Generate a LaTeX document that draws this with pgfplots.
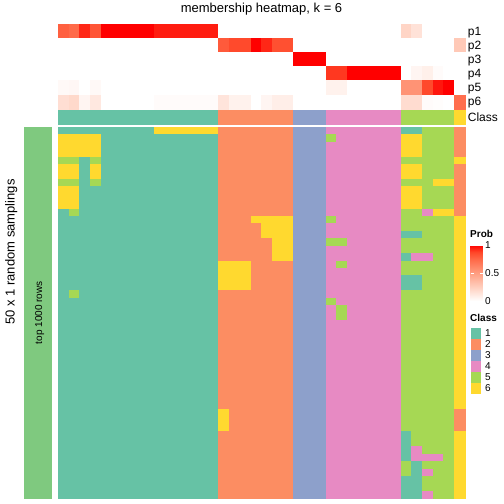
\documentclass[border=0pt]{standalone}
\usepackage{pgfplots}
\pgfplotsset{compat=1.18}
\usepackage{fontspec}
\setmainfont{Liberation Sans}
\definecolor{k1}{RGB}{102,194,165}
\definecolor{k2}{RGB}{252,141,98}
\definecolor{k3}{RGB}{141,160,203}
\definecolor{k4}{RGB}{231,138,195}
\definecolor{k5}{RGB}{166,216,84}
\definecolor{k6}{RGB}{255,217,47}
\definecolor{rowbar}{RGB}{127,201,127}
\newcommand{\fs}[1]{\fontsize{#1bp}{#1bp}\selectfont}
\pgfplotsset{
 colormap={classes}{rgb255=(102,194,165) rgb255=(252,141,98) rgb255=(141,160,203) rgb255=(231,138,195) rgb255=(166,216,84) rgb255=(255,217,47)},
 colormap={prob}{rgb255(0cm)=(255,255,255) rgb255(1cm)=(255,207,190) rgb255(2cm)=(255,158,129) rgb255(3cm)=(255,104,71) rgb255(3.5cm)=(255,70,40) rgb255(4cm)=(255,0,0)},
 hm/.style={scale only axis, anchor=north west, xmin=-0.5, xmax=37.5, y dir=reverse, hide axis, width=407bp},
 hmcell/.style 2 args={scatter, only marks, mark=square*, mark size=#1, point meta=explicit,
   scatter/use mapped color={draw=mapped color, fill=mapped color},
   mark options={xscale=#2, line width=0.35bp}},
}
\begin{document}
\begin{tikzpicture}
\path[use as bounding box] (0,0) rectangle (504bp,-504bp);

% ---------- probability annotation (p1..p6) ----------
\begin{axis}[hm, at={(58bp,-24bp)}, height=85bp, ymin=-0.5, ymax=5.5,
  colormap name=prob, point meta min=0, point meta max=1,
  colorbar,
  colorbar style={at={(parent axis.north east)}, anchor=north west, xshift=-3bp, yshift=-221bp,
    width=12bp, height=56bp, scale only axis,
    ytick={0,0.5,1}, ytick pos=both, yticklabel pos=right,
    axis line style={draw=none}, tick align=inside, major tick length=3bp,
    ytick style={white, line width=0.7bp},
    yticklabel style={font=\fs{10}, /pgf/number format/assume math mode=true, inner sep=2.5bp}}]
\addplot[hmcell={7.083bp}{0.7559}]
 table[row sep=\\, x expr={\coordindex-38*floor((\coordindex+0.5)/38)}, y expr={floor((\coordindex+0.5)/38)}, meta=p] {p\\
0.78\\0.74\\0.93\\0.82\\1\\1\\1\\1\\1\\0.95\\0.95\\0.95\\0.95\\0.95\\0.95\\ 0\\0\\0\\0\\0\\0\\0\\ 0\\0\\0\\ 0\\0\\0\\0\\0\\0\\0\\ 0.22\\0.15\\0\\0\\0\\ 0\\
0\\0\\0\\0\\0\\0\\0\\0\\0\\0\\0\\0\\0\\0\\0\\ 0.80\\0.86\\0.86\\1\\0.93\\0.84\\0.84\\ 0\\0\\0\\ 0\\0\\0\\0\\0\\0\\0\\ 0\\0\\0\\0\\0\\ 0.28\\
0\\0\\0\\0\\0\\0\\0\\0\\0\\0\\0\\0\\0\\0\\0\\ 0\\0\\0\\0\\0\\0\\0\\ 1\\1\\1\\ 0\\0\\0\\0\\0\\0\\0\\ 0\\0\\0\\0\\0\\ 0\\
0\\0\\0\\0\\0\\0\\0\\0\\0\\0\\0\\0\\0\\0\\0\\ 0\\0\\0\\0\\0\\0\\0\\ 0\\0\\0\\ 0.90\\0.90\\1\\1\\1\\1\\1\\ 0\\0.05\\0.08\\0.02\\0\\ 0\\
0.03\\0.04\\0\\0.03\\0\\0\\0\\0\\0\\0\\0\\0\\0\\0\\0\\ 0\\0\\0\\0\\0\\0\\0\\ 0\\0\\0\\ 0.07\\0.07\\0\\0\\0\\0\\0\\ 0.55\\0.55\\0.86\\0.96\\1\\ 0\\
0.17\\0.20\\0.05\\0.12\\0\\0\\0\\0\\0\\0.02\\0.02\\0.02\\0.02\\0.02\\0.02\\ 0.14\\0.07\\0.07\\0\\0.05\\0.09\\0.09\\ 0\\0\\0\\ 0\\0\\0\\0\\0\\0\\0\\ 0.18\\0.18\\0.02\\0.01\\0\\ 0.72\\
};
\end{axis}

% ---------- class annotation ----------
\begin{axis}[hm, at={(58bp,-110bp)}, height=14bp, ymin=-0.5, ymax=0.5,
  colormap name=classes, point meta min=0, point meta max=5]
\addplot[hmcell={7bp}{0.765}]
 table[row sep=\\, x expr=\coordindex, y expr=0, meta=c] {c\\
0\\0\\0\\0\\0\\0\\0\\0\\0\\0\\0\\0\\0\\0\\0\\ 1\\1\\1\\1\\1\\1\\1\\ 2\\2\\2\\ 3\\3\\3\\3\\3\\3\\3\\ 4\\4\\4\\4\\4\\ 5\\
};
\end{axis}

% ---------- main membership heatmap (50 samplings x 38 samples) ----------
\begin{axis}[hm, at={(58bp,-127bp)}, height=371.5bp, ymin=-0.5, ymax=49.5,
  colormap name=classes, point meta min=0, point meta max=5]
\addplot[hmcell={3.715bp}{1.4418}]
 table[row sep=\\, x expr={\coordindex-38*floor((\coordindex+0.5)/38)}, y expr={floor((\coordindex+0.5)/38)}, meta=c] {c\\
0\\0\\0\\0\\0\\0\\0\\0\\0\\5\\5\\5\\5\\5\\5\\ 1\\1\\1\\1\\1\\1\\1\\ 2\\2\\2\\ 3\\3\\3\\3\\3\\3\\3\\ 0\\0\\4\\4\\4\\ 1\\
5\\5\\5\\5\\0\\0\\0\\0\\0\\0\\0\\0\\0\\0\\0\\ 1\\1\\1\\1\\1\\1\\1\\ 2\\2\\2\\ 4\\3\\3\\3\\3\\3\\3\\ 5\\5\\4\\4\\4\\ 1\\
5\\5\\5\\5\\0\\0\\0\\0\\0\\0\\0\\0\\0\\0\\0\\ 1\\1\\1\\1\\1\\1\\1\\ 2\\2\\2\\ 3\\3\\3\\3\\3\\3\\3\\ 5\\5\\4\\4\\4\\ 1\\
5\\5\\5\\5\\0\\0\\0\\0\\0\\0\\0\\0\\0\\0\\0\\ 1\\1\\1\\1\\1\\1\\1\\ 2\\2\\2\\ 3\\3\\3\\3\\3\\3\\3\\ 5\\5\\4\\4\\4\\ 1\\
4\\4\\0\\4\\0\\0\\0\\0\\0\\0\\0\\0\\0\\0\\0\\ 1\\1\\1\\1\\1\\1\\1\\ 2\\2\\2\\ 3\\3\\3\\3\\3\\3\\3\\ 4\\4\\4\\4\\4\\ 5\\
5\\5\\0\\5\\0\\0\\0\\0\\0\\0\\0\\0\\0\\0\\0\\ 1\\1\\1\\1\\1\\1\\1\\ 2\\2\\2\\ 3\\3\\3\\3\\3\\3\\3\\ 5\\5\\4\\4\\4\\ 1\\
5\\5\\0\\5\\0\\0\\0\\0\\0\\0\\0\\0\\0\\0\\0\\ 1\\1\\1\\1\\1\\1\\1\\ 2\\2\\2\\ 3\\3\\3\\3\\3\\3\\3\\ 5\\5\\4\\4\\4\\ 1\\
4\\4\\0\\4\\0\\0\\0\\0\\0\\0\\0\\0\\0\\0\\0\\ 1\\1\\1\\1\\1\\1\\1\\ 2\\2\\2\\ 3\\3\\3\\3\\3\\3\\3\\ 4\\4\\4\\5\\5\\ 1\\
5\\5\\0\\0\\0\\0\\0\\0\\0\\0\\0\\0\\0\\0\\0\\ 1\\1\\1\\1\\1\\1\\1\\ 2\\2\\2\\ 3\\3\\3\\3\\3\\3\\3\\ 5\\5\\4\\4\\4\\ 1\\
5\\5\\0\\0\\0\\0\\0\\0\\0\\0\\0\\0\\0\\0\\0\\ 1\\1\\1\\1\\1\\1\\1\\ 2\\2\\2\\ 3\\3\\3\\3\\3\\3\\3\\ 5\\5\\4\\4\\4\\ 1\\
5\\5\\0\\0\\0\\0\\0\\0\\0\\0\\0\\0\\0\\0\\0\\ 1\\1\\1\\1\\1\\1\\1\\ 2\\2\\2\\ 3\\3\\3\\3\\3\\3\\3\\ 5\\5\\4\\4\\4\\ 1\\
0\\4\\0\\0\\0\\0\\0\\0\\0\\0\\0\\0\\0\\0\\0\\ 1\\1\\1\\1\\1\\1\\1\\ 2\\2\\2\\ 3\\3\\3\\3\\3\\3\\3\\ 4\\4\\3\\5\\5\\ 1\\
0\\0\\0\\0\\0\\0\\0\\0\\0\\0\\0\\0\\0\\0\\0\\ 1\\1\\1\\5\\5\\5\\5\\ 2\\2\\2\\ 4\\3\\3\\3\\3\\3\\3\\ 4\\4\\4\\4\\4\\ 5\\
0\\0\\0\\0\\0\\0\\0\\0\\0\\0\\0\\0\\0\\0\\0\\ 1\\1\\1\\1\\5\\5\\5\\ 2\\2\\2\\ 3\\3\\3\\3\\3\\3\\3\\ 4\\4\\4\\4\\4\\ 5\\
0\\0\\0\\0\\0\\0\\0\\0\\0\\0\\0\\0\\0\\0\\0\\ 1\\1\\1\\1\\5\\5\\5\\ 2\\2\\2\\ 3\\3\\3\\3\\3\\3\\3\\ 0\\0\\4\\4\\4\\ 5\\
0\\0\\0\\0\\0\\0\\0\\0\\0\\0\\0\\0\\0\\0\\0\\ 1\\1\\1\\1\\1\\5\\5\\ 2\\2\\2\\ 4\\4\\3\\3\\3\\3\\3\\ 4\\4\\4\\4\\4\\ 5\\
0\\0\\0\\0\\0\\0\\0\\0\\0\\0\\0\\0\\0\\0\\0\\ 1\\1\\1\\1\\1\\5\\5\\ 2\\2\\2\\ 3\\3\\3\\3\\3\\3\\3\\ 4\\4\\4\\4\\4\\ 5\\
0\\0\\0\\0\\0\\0\\0\\0\\0\\0\\0\\0\\0\\0\\0\\ 1\\1\\1\\1\\1\\5\\5\\ 2\\2\\2\\ 3\\3\\3\\3\\3\\3\\3\\ 0\\3\\3\\4\\4\\ 5\\
0\\0\\0\\0\\0\\0\\0\\0\\0\\0\\0\\0\\0\\0\\0\\ 5\\5\\5\\1\\1\\1\\1\\ 2\\2\\2\\ 3\\4\\3\\3\\3\\3\\3\\ 4\\4\\4\\4\\4\\ 5\\
0\\0\\0\\0\\0\\0\\0\\0\\0\\0\\0\\0\\0\\0\\0\\ 5\\5\\5\\1\\1\\1\\1\\ 2\\2\\2\\ 3\\3\\3\\3\\3\\3\\3\\ 4\\4\\4\\4\\4\\ 5\\
0\\0\\0\\0\\0\\0\\0\\0\\0\\0\\0\\0\\0\\0\\0\\ 5\\5\\5\\1\\1\\1\\1\\ 2\\2\\2\\ 3\\3\\3\\3\\3\\3\\3\\ 0\\0\\4\\4\\4\\ 5\\
0\\0\\0\\0\\0\\0\\0\\0\\0\\0\\0\\0\\0\\0\\0\\ 5\\5\\5\\1\\1\\1\\1\\ 2\\2\\2\\ 3\\3\\3\\3\\3\\3\\3\\ 0\\0\\4\\4\\4\\ 5\\
0\\4\\0\\0\\0\\0\\0\\0\\0\\0\\0\\0\\0\\0\\0\\ 1\\1\\1\\1\\1\\1\\1\\ 2\\2\\2\\ 3\\3\\3\\3\\3\\3\\3\\ 4\\4\\4\\4\\4\\ 5\\
0\\0\\0\\0\\0\\0\\0\\0\\0\\0\\0\\0\\0\\0\\0\\ 1\\1\\1\\1\\1\\1\\1\\ 2\\2\\2\\ 4\\3\\3\\3\\3\\3\\3\\ 4\\4\\4\\4\\4\\ 5\\
0\\0\\0\\0\\0\\0\\0\\0\\0\\0\\0\\0\\0\\0\\0\\ 1\\1\\1\\1\\1\\1\\1\\ 2\\2\\2\\ 3\\4\\3\\3\\3\\3\\3\\ 4\\4\\4\\4\\4\\ 5\\
0\\0\\0\\0\\0\\0\\0\\0\\0\\0\\0\\0\\0\\0\\0\\ 1\\1\\1\\1\\1\\1\\1\\ 2\\2\\2\\ 3\\4\\3\\3\\3\\3\\3\\ 4\\4\\4\\4\\4\\ 5\\
0\\0\\0\\0\\0\\0\\0\\0\\0\\0\\0\\0\\0\\0\\0\\ 1\\1\\1\\1\\1\\1\\1\\ 2\\2\\2\\ 3\\3\\3\\3\\3\\3\\3\\ 4\\4\\4\\4\\4\\ 5\\
0\\0\\0\\0\\0\\0\\0\\0\\0\\0\\0\\0\\0\\0\\0\\ 1\\1\\1\\1\\1\\1\\1\\ 2\\2\\2\\ 3\\3\\3\\3\\3\\3\\3\\ 4\\4\\4\\4\\4\\ 5\\
0\\0\\0\\0\\0\\0\\0\\0\\0\\0\\0\\0\\0\\0\\0\\ 1\\1\\1\\1\\1\\1\\1\\ 2\\2\\2\\ 3\\3\\3\\3\\3\\3\\3\\ 4\\4\\4\\4\\4\\ 5\\
0\\0\\0\\0\\0\\0\\0\\0\\0\\0\\0\\0\\0\\0\\0\\ 1\\1\\1\\1\\1\\1\\1\\ 2\\2\\2\\ 3\\3\\3\\3\\3\\3\\3\\ 4\\4\\4\\4\\4\\ 5\\
0\\0\\0\\0\\0\\0\\0\\0\\0\\0\\0\\0\\0\\0\\0\\ 1\\1\\1\\1\\1\\1\\1\\ 2\\2\\2\\ 3\\3\\3\\3\\3\\3\\3\\ 4\\4\\4\\4\\4\\ 5\\
0\\0\\0\\0\\0\\0\\0\\0\\0\\0\\0\\0\\0\\0\\0\\ 1\\1\\1\\1\\1\\1\\1\\ 2\\2\\2\\ 3\\3\\3\\3\\3\\3\\3\\ 4\\4\\4\\4\\4\\ 5\\
0\\0\\0\\0\\0\\0\\0\\0\\0\\0\\0\\0\\0\\0\\0\\ 1\\1\\1\\1\\1\\1\\1\\ 2\\2\\2\\ 3\\3\\3\\3\\3\\3\\3\\ 4\\4\\4\\4\\4\\ 5\\
0\\0\\0\\0\\0\\0\\0\\0\\0\\0\\0\\0\\0\\0\\0\\ 1\\1\\1\\1\\1\\1\\1\\ 2\\2\\2\\ 3\\3\\3\\3\\3\\3\\3\\ 4\\4\\4\\4\\4\\ 5\\
0\\0\\0\\0\\0\\0\\0\\0\\0\\0\\0\\0\\0\\0\\0\\ 1\\1\\1\\1\\1\\1\\1\\ 2\\2\\2\\ 3\\3\\3\\3\\3\\3\\3\\ 4\\4\\4\\4\\4\\ 5\\
0\\0\\0\\0\\0\\0\\0\\0\\0\\0\\0\\0\\0\\0\\0\\ 1\\1\\1\\1\\1\\1\\1\\ 2\\2\\2\\ 3\\3\\3\\3\\3\\3\\3\\ 4\\4\\4\\4\\4\\ 5\\
0\\0\\0\\0\\0\\0\\0\\0\\0\\0\\0\\0\\0\\0\\0\\ 1\\1\\1\\1\\1\\1\\1\\ 2\\2\\2\\ 3\\3\\3\\3\\3\\3\\3\\ 4\\4\\4\\4\\4\\ 5\\
0\\0\\0\\0\\0\\0\\0\\0\\0\\0\\0\\0\\0\\0\\0\\ 1\\1\\1\\1\\1\\1\\1\\ 2\\2\\2\\ 3\\3\\3\\3\\3\\3\\3\\ 4\\4\\4\\4\\4\\ 5\\
0\\0\\0\\0\\0\\0\\0\\0\\0\\0\\0\\0\\0\\0\\0\\ 5\\1\\1\\1\\1\\1\\1\\ 2\\2\\2\\ 3\\3\\3\\3\\3\\3\\3\\ 4\\4\\4\\4\\4\\ 1\\
0\\0\\0\\0\\0\\0\\0\\0\\0\\0\\0\\0\\0\\0\\0\\ 5\\1\\1\\1\\1\\1\\1\\ 2\\2\\2\\ 3\\3\\3\\3\\3\\3\\3\\ 4\\4\\4\\4\\4\\ 1\\
0\\0\\0\\0\\0\\0\\0\\0\\0\\0\\0\\0\\0\\0\\0\\ 5\\1\\1\\1\\1\\1\\1\\ 2\\2\\2\\ 3\\3\\3\\3\\3\\3\\3\\ 4\\4\\4\\4\\4\\ 1\\
0\\0\\0\\0\\0\\0\\0\\0\\0\\0\\0\\0\\0\\0\\0\\ 1\\1\\1\\1\\1\\1\\1\\ 2\\2\\2\\ 3\\3\\3\\3\\3\\3\\3\\ 0\\4\\4\\4\\4\\ 5\\
0\\0\\0\\0\\0\\0\\0\\0\\0\\0\\0\\0\\0\\0\\0\\ 1\\1\\1\\1\\1\\1\\1\\ 2\\2\\2\\ 3\\3\\3\\3\\3\\3\\3\\ 0\\4\\4\\4\\4\\ 5\\
0\\0\\0\\0\\0\\0\\0\\0\\0\\0\\0\\0\\0\\0\\0\\ 1\\1\\1\\1\\1\\1\\1\\ 2\\2\\2\\ 3\\3\\3\\3\\3\\3\\3\\ 0\\3\\4\\4\\4\\ 5\\
0\\0\\0\\0\\0\\0\\0\\0\\0\\0\\0\\0\\0\\0\\0\\ 1\\1\\1\\1\\1\\1\\1\\ 2\\2\\2\\ 3\\3\\3\\3\\3\\3\\3\\ 0\\3\\3\\3\\4\\ 5\\
0\\0\\0\\0\\0\\0\\0\\0\\0\\0\\0\\0\\0\\0\\0\\ 1\\1\\1\\1\\1\\1\\1\\ 2\\2\\2\\ 3\\3\\3\\3\\3\\3\\3\\ 4\\0\\4\\4\\4\\ 5\\
0\\0\\0\\0\\0\\0\\0\\0\\0\\0\\0\\0\\0\\0\\0\\ 1\\1\\1\\1\\1\\1\\1\\ 2\\2\\2\\ 3\\3\\3\\3\\3\\3\\3\\ 4\\0\\3\\4\\4\\ 5\\
0\\0\\0\\0\\0\\0\\0\\0\\0\\0\\0\\0\\0\\0\\0\\ 1\\1\\1\\1\\1\\1\\1\\ 2\\2\\2\\ 3\\3\\3\\3\\3\\3\\3\\ 0\\0\\4\\4\\4\\ 5\\
0\\0\\0\\0\\0\\0\\0\\0\\0\\0\\0\\0\\0\\0\\0\\ 1\\1\\1\\1\\1\\1\\1\\ 2\\2\\2\\ 3\\3\\3\\3\\3\\3\\3\\ 0\\0\\4\\4\\4\\ 5\\
0\\0\\0\\0\\0\\0\\0\\0\\0\\0\\0\\0\\0\\0\\0\\ 1\\1\\1\\1\\1\\1\\1\\ 2\\2\\2\\ 3\\3\\3\\3\\3\\3\\3\\ 0\\0\\3\\4\\4\\ 5\\
};
\end{axis}

% ---------- row annotation bar ----------
\fill[rowbar] (24bp,-127bp) rectangle (52bp,-498.5bp);
\node[rotate=90, anchor=base, inner sep=0, font=\fs{10}] at (42.2bp,-312.7bp) {top 1000 rows};
\node[rotate=90, anchor=base, inner sep=0, font=\fs{13}] at (14.5bp,-252bp) {50 x 1 random samplings};

% ---------- title ----------
\node[anchor=base, inner sep=0, font=\fs{13}] at (261.5bp,-12.8bp) {membership heatmap, k = 6};

% ---------- annotation names ----------
\foreach \lab [count=\i from 0] in {p1,p2,p3,p4,p5,p6}{
  \node[anchor=base west, inner sep=0, font=\fs{12}] at (467.7bp,{-(24+14.17*(\i+0.5)+4)*1bp}) {\lab};
}
\node[anchor=base west, inner sep=0, font=\fs{12}] at (467.7bp,-121.5bp) {Class};

% ---------- legends ----------
\node[anchor=base west, inner sep=0, font=\fs{10}\bfseries] at (470bp,-237.5bp) {Prob};
\node[anchor=base west, inner sep=0, font=\fs{10}\bfseries] at (470bp,-321.7bp) {Class};
\foreach \c [count=\i from 0] in {k1,k2,k3,k4,k5,k6}{
  \fill[\c] (470.5bp,{-(328+11*\i)*1bp}) rectangle (481bp,{-(338.5+11*\i)*1bp});
  \pgfmathtruncatemacro{\lbl}{\i+1}
  \node[anchor=base west, inner sep=0, font=\fs{10}] at (485bp,{-(333.3+11*\i+3.6)*1bp}) {\lbl};
}
\end{tikzpicture}
\end{document}
